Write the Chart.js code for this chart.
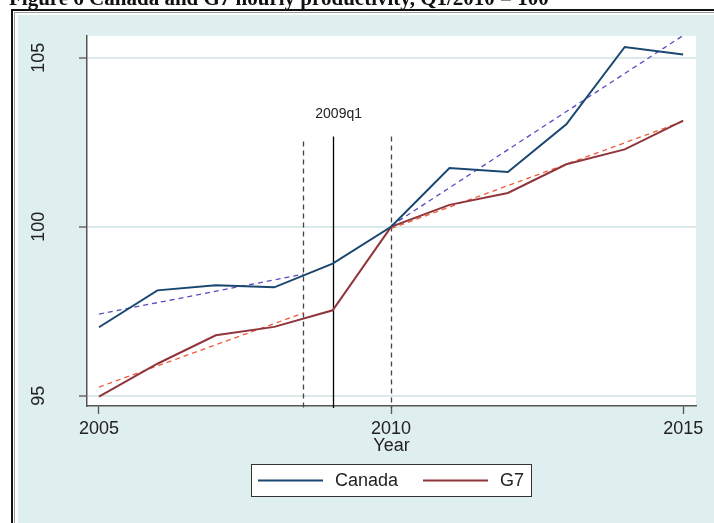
<!DOCTYPE html>
<html>
<head>
<meta charset="utf-8">
<script src="https://cdn.jsdelivr.net/npm/chart.js@4.4.1/dist/chart.umd.min.js"></script>
<style>
  html, body { margin: 0; padding: 0; background: #ffffff; }
  #wrap { width: 714px; height: 523px; }
</style>
</head>
<body>
<div id="wrap"><canvas id="productivity" width="714" height="523"></canvas></div>
<script>
// hourly productivity index, Q1/2010 = 100
const years = [2005, 2006, 2007, 2008, 2009, 2010, 2011, 2012, 2013, 2014, 2015];
const canada = [97.03, 98.12, 98.27, 98.21, 98.91, 100.0, 101.74, 101.62, 103.03, 105.32, 105.10];
const g7 = [94.98, 95.95, 96.79, 97.04, 97.53, 100.0, 100.65, 101.0, 101.85, 102.29, 103.14];

// fitted trends before and after the break
const trendPreYears = [2005, 2008.5];
const canadaTrendPre = [97.42, 98.6];
const g7TrendPre = [95.26, 97.45];
const trendPostYears = [2010, 2015];
const canadaTrendPost = [100.03, 105.66];
const g7TrendPost = [99.95, 103.12];

// break markers
const breakYears = [2008.5, 2009, 2010];
const breakTops = [102.52, 102.67, 102.67];
const breakLabel = '2009q1';

const xTicks = [2005, 2010, 2015];
const yTicks = [95, 100, 105];

const pts = (xs, ys) => xs.map((x, i) => ({ x: x, y: ys[i] }));

const BG = '#dfeeee';
const FONT = "'Liberation Sans', Arial, sans-serif";

const frame = {
	id: 'frame',
	beforeDraw(chart) {
		const ctx = chart.ctx;
		const a = chart.chartArea;
		ctx.save();
		ctx.fillStyle = '#ffffff';
		ctx.fillRect(0, 0, chart.width, chart.height);

		// caption above the graph box
		ctx.fillStyle = '#111111';
		ctx.font = "bold 21px 'Liberation Serif', 'Times New Roman', serif";
		ctx.textBaseline = 'alphabetic';
		ctx.fillText('Figure 6 Canada and G7 hourly productivity, Q1/2010 = 100', 9, 4.5);

		ctx.strokeStyle = '#111111';
		ctx.lineWidth = 2;
		ctx.beginPath();
		ctx.moveTo(12, chart.height + 2);
		ctx.lineTo(12, 10);
		ctx.lineTo(chart.width + 2, 10);
		ctx.stroke();
		ctx.strokeStyle = '#9a9a9a';
		ctx.lineWidth = 1;
		ctx.beginPath();
		ctx.moveTo(14.5, chart.height + 2);
		ctx.lineTo(14.5, 12.5);
		ctx.lineTo(chart.width + 2, 12.5);
		ctx.stroke();

		ctx.fillStyle = BG;
		ctx.fillRect(18, 15, chart.width - 18, chart.height - 15);

		ctx.fillStyle = '#ffffff';
		ctx.fillRect(a.left, a.top, a.right - a.left, a.bottom - a.top);
		ctx.restore();
	},
	beforeDatasetsDraw(chart) {
		const ctx = chart.ctx;
		const xs = chart.scales.x;
		const ys = chart.scales.y;
		ctx.save();
		ctx.lineWidth = 1.3;
		breakYears.forEach((yr, i) => {
			const px = Math.round(xs.getPixelForValue(yr)) + 0.5;
			ctx.strokeStyle = i === 1 ? '#000000' : '#444444';
			ctx.setLineDash(i === 1 ? [] : [5, 4]);
			ctx.beginPath();
			ctx.moveTo(px, ys.getPixelForValue(breakTops[i]));
			ctx.lineTo(px, chart.chartArea.bottom + 2);
			ctx.stroke();
		});
		ctx.setLineDash([]);
		ctx.fillStyle = '#222222';
		ctx.font = '14px ' + FONT;
		ctx.textAlign = 'center';
		ctx.textBaseline = 'middle';
		ctx.fillText(breakLabel, xs.getPixelForValue(breakYears[1]) + 6, 114);
		ctx.restore();
	},
	afterDraw(chart) {
		// legend box under the axis title
		const ctx = chart.ctx;
		const items = chart.data.datasets.slice(0, 2);
		ctx.save();
		ctx.fillStyle = '#ffffff';
		ctx.fillRect(251, 464, 281, 33);
		ctx.strokeStyle = '#333333';
		ctx.lineWidth = 1;
		ctx.strokeRect(251.5, 464.5, 280, 32);
		ctx.font = '18px ' + FONT;
		ctx.textBaseline = 'middle';
		ctx.textAlign = 'left';
		const starts = [258, 423];
		items.forEach((ds, i) => {
			const x0 = starts[i];
			ctx.strokeStyle = ds.borderColor;
			ctx.lineWidth = 2;
			ctx.beginPath();
			ctx.moveTo(x0, 480.5);
			ctx.lineTo(x0 + 65, 480.5);
			ctx.stroke();
			ctx.fillStyle = '#222222';
			ctx.fillText(ds.label, x0 + 77, 481);
		});
		ctx.restore();
	}
};

const config_productivity = {
	type: 'line',
	data: {
		datasets: [
			{
				label: 'Canada',
				data: pts(years, canada),
				borderColor: '#1a476f',
				borderWidth: 2,
				pointRadius: 0,
				tension: 0
			},
			{
				label: 'G7',
				data: pts(years, g7),
				borderColor: '#90353b',
				borderWidth: 2,
				pointRadius: 0,
				tension: 0
			},
			{
				label: 'Canada trend, pre',
				data: pts(trendPreYears, canadaTrendPre),
				borderColor: '#5a4bc0',
				borderWidth: 1.3,
				borderDash: [5, 4],
				pointRadius: 0
			},
			{
				label: 'G7 trend, pre',
				data: pts(trendPreYears, g7TrendPre),
				borderColor: '#ee5a3a',
				borderWidth: 1.3,
				borderDash: [5, 4],
				pointRadius: 0
			},
			{
				label: 'Canada trend, post',
				data: pts(trendPostYears, canadaTrendPost),
				borderColor: '#5a4bc0',
				borderWidth: 1.3,
				borderDash: [5, 4],
				pointRadius: 0
			},
			{
				label: 'G7 trend, post',
				data: pts(trendPostYears, g7TrendPost),
				borderColor: '#ee5a3a',
				borderWidth: 1.3,
				borderDash: [5, 4],
				pointRadius: 0
			}
		]
	},
	options: {
		responsive: false,
		animation: false,
		devicePixelRatio: 1,
		layout: {
			padding: { top: 33, right: 18, bottom: 62, left: 0 }
		},
		plugins: {
			legend: { display: false },
			tooltip: { enabled: false }
		},
		scales: {
			x: {
				type: 'linear',
				min: 2004.795,
				max: 2015.22,
				afterBuildTicks: (scale) => { scale.ticks = xTicks.map(v => ({ value: v })); },
				afterFit: (scale) => { scale.height = 55; },
				grid: {
					drawOnChartArea: false,
					tickLength: 8,
					tickColor: '#555555',
					tickWidth: 1.3
				},
				border: { color: '#555555', width: 1.5 },
				ticks: {
					autoSkip: false,
					maxRotation: 0,
					padding: 4,
					color: '#222222',
					font: { family: FONT, size: 18 },
					callback: (v) => String(v)
				},
				title: {
					display: true,
					text: 'Year',
					color: '#222222',
					font: { family: FONT, size: 18 },
					padding: { top: 0, bottom: 4 }
				}
			},
			y: {
				type: 'linear',
				min: 94.7,
				max: 105.65,
				afterBuildTicks: (scale) => { scale.ticks = yTicks.map(v => ({ value: v })); },
				afterFit: (scale) => { scale.width = 87; },
				grid: {
					color: '#dae9ea',
					lineWidth: 2,
					tickLength: 8,
					tickColor: '#555555',
					tickWidth: 1.3
				},
				border: { color: '#555555', width: 1.5 },
				ticks: {
					autoSkip: false,
					minRotation: 90,
					maxRotation: 90,
					crossAlign: 'center',
					padding: 25,
					color: '#222222',
					font: { family: FONT, size: 18 },
					callback: (v) => String(v)
				}
			}
		}
	},
	plugins: [frame]
};

const productivity = new Chart(
	document.getElementById('productivity'),
	config_productivity
);
</script>
</body>
</html>
